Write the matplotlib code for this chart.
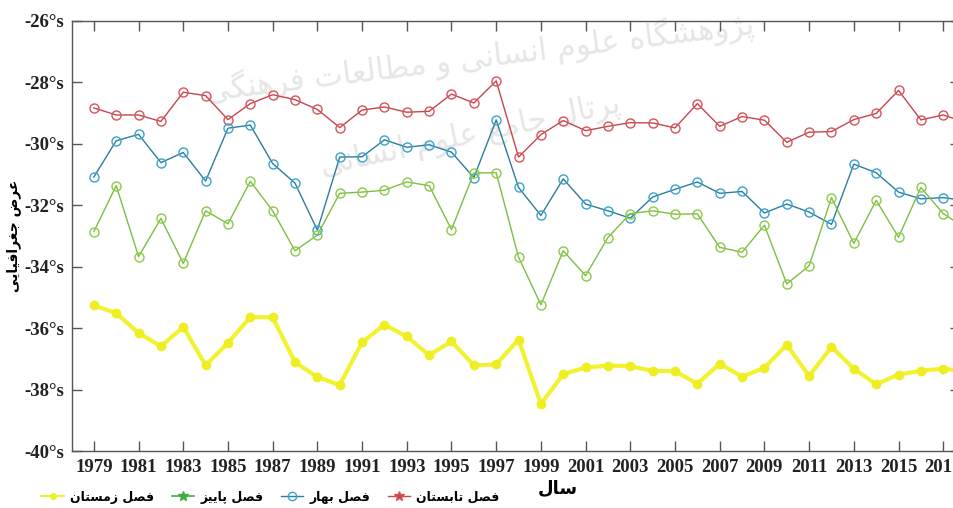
import matplotlib
matplotlib.use('Agg')
import matplotlib.pyplot as plt
from matplotlib.lines import Line2D

years = list(range(1979, 2019))

summer = [-28.83, -29.06, -29.06, -29.27, -28.32, -28.43, -29.21, -28.69, -28.40, -28.56,
          -28.88, -29.47, -28.90, -28.80, -28.97, -28.94, -28.38, -28.67, -27.95, -30.43,
          -29.70, -29.24, -29.57, -29.43, -29.31, -29.32, -29.48, -28.69, -29.43, -29.11,
          -29.23, -29.95, -29.62, -29.60, -29.21, -29.01, -28.26, -29.22, -29.06, -29.30]
spring = [-31.08, -29.90, -29.69, -30.61, -30.28, -31.21, -29.49, -29.39, -30.64, -31.28,
          -32.81, -30.43, -30.42, -29.87, -30.11, -30.03, -30.27, -31.10, -29.22, -31.42,
          -32.33, -31.14, -31.96, -32.18, -32.42, -31.73, -31.48, -31.24, -31.61, -31.55,
          -32.25, -31.96, -32.22, -32.62, -30.66, -30.94, -31.57, -31.79, -31.75, -31.85]
autumn = [-32.86, -31.36, -33.67, -32.43, -33.89, -32.18, -32.60, -31.22, -32.18, -33.48,
          -32.97, -31.61, -31.57, -31.51, -31.24, -31.36, -32.79, -30.95, -30.94, -33.69,
          -35.24, -33.48, -34.29, -33.05, -32.27, -32.18, -32.29, -32.28, -33.37, -33.53,
          -32.65, -34.56, -33.97, -31.75, -33.24, -31.84, -33.04, -31.42, -32.27, -32.75]
winter = [-35.26, -35.51, -36.16, -36.59, -35.96, -37.21, -36.48, -35.64, -35.65, -37.11,
          -37.59, -37.85, -36.46, -35.89, -36.27, -36.88, -36.43, -37.21, -37.18, -36.37,
          -38.47, -37.50, -37.28, -37.22, -37.24, -37.39, -37.40, -37.81, -37.16, -37.58,
          -37.29, -36.54, -37.56, -36.61, -37.32, -37.83, -37.51, -37.39, -37.32, -37.40]

xticks = list(range(1979, 2018, 2))
yticks = list(range(-40, -25, 2))

# persian labels (logical order), shaped below since matplotlib does no arabic shaping
lbl_summer = 'فصل تابستان'
lbl_spring = 'فصل بهار'
lbl_autumn = 'فصل پاییز'
lbl_winter = 'فصل زمستان'
xlabel = 'سال'
ylabel = 'عرض جغرافیایی'
mark1 = 'پژوهشگاه علوم انسانی و مطالعات فرهنگی'
mark2 = 'پرتال جامع علوم انسانی'

# isolated, final (, initial, medial)
FORMS = {
    'ا': '\uFE8D\uFE8E', 'ب': '\uFE8F\uFE90\uFE91\uFE92', 'ت': '\uFE95\uFE96\uFE97\uFE98',
    'ج': '\uFE9D\uFE9E\uFE9F\uFEA0', 'ر': '\uFEAD\uFEAE', 'ز': '\uFEAF\uFEB0',
    'س': '\uFEB1\uFEB2\uFEB3\uFEB4', 'ش': '\uFEB5\uFEB6\uFEB7\uFEB8', 'ص': '\uFEB9\uFEBA\uFEBB\uFEBC',
    'ض': '\uFEBD\uFEBE\uFEBF\uFEC0', 'ط': '\uFEC1\uFEC2\uFEC3\uFEC4', 'ع': '\uFEC9\uFECA\uFECB\uFECC',
    'غ': '\uFECD\uFECE\uFECF\uFED0', 'ف': '\uFED1\uFED2\uFED3\uFED4', 'ل': '\uFEDD\uFEDE\uFEDF\uFEE0',
    'م': '\uFEE1\uFEE2\uFEE3\uFEE4', 'ن': '\uFEE5\uFEE6\uFEE7\uFEE8', 'ه': '\uFEE9\uFEEA\uFEEB\uFEEC',
    'و': '\uFEED\uFEEE', 'پ': '\uFB56\uFB57\uFB58\uFB59', 'ژ': '\uFB8A\uFB8B',
    'گ': '\uFB92\uFB93\uFB94\uFB95', 'ی': '\uFBFC\uFBFD\uFBFE\uFBFF',
}


def shape(text):
    out = []
    for i, c in enumerate(text):
        f = FORMS.get(c)
        if f is None:
            out.append(c)
            continue
        prev = text[i - 1] if i > 0 else ''
        nxt = text[i + 1] if i + 1 < len(text) else ''
        jp = prev in FORMS and len(FORMS[prev]) == 4
        jn = nxt in FORMS and len(f) == 4
        if jp and jn:
            out.append(f[3])
        elif jp:
            out.append(f[1])
        elif jn:
            out.append(f[2])
        else:
            out.append(f[0])
    return ''.join(reversed(out))


fig = plt.figure(figsize=(9.54, 5.08), dpi=100)
ax = fig.add_axes([71.5 / 954, 1 - 451 / 508, (960 - 71.5) / 954, (451 - 21) / 508])

ax.plot(years, summer, color='#c4474d', lw=1.0, marker='o', ms=6.5, mfc='none',
        mec='#d9535a', mew=1.0, zorder=3)
ax.plot(years, spring, color='#2d7d9c', lw=1.0, marker='o', ms=6.5, mfc='none',
        mec='#3aa3cf', mew=1.0, zorder=3)
ax.plot(years, autumn, color='#7cbf45', lw=1.0, marker='o', ms=6.5, mfc='none',
        mec='#8dca4a', mew=1.0, zorder=3)
ax.plot(years, winter, color='#f2f230', lw=3.0, marker='o', ms=6, mfc='#eeee22',
        mec='#eeee22', zorder=3)

ax.set_xlim(1978, 2017.75)
ax.set_ylim(-40, -26)
ax.set_xticks(xticks)
ax.set_xticklabels([str(y) for y in xticks])
ax.set_yticks(yticks)
ax.set_yticklabels([f'{v}°s' for v in yticks])
ax.tick_params(direction='in', length=7, width=1, color='#555555', top=True, right=True)
ax.tick_params(axis='x', pad=6)
ax.tick_params(axis='y', pad=5)
for lab in ax.get_xticklabels() + ax.get_yticklabels():
    lab.set_fontfamily('Liberation Serif')
    lab.set_fontweight('bold')
    lab.set_fontsize(13.5)
    lab.set_color('#222222')
for s in ax.spines.values():
    s.set_color('#555555')
    s.set_linewidth(1.0)

fig.text(558 / 954, 1 - 488 / 508, shape(xlabel), ha='center', va='center',
         family='DejaVu Sans', weight='bold', fontsize=13)
fig.text(14 / 954, 1 - 236 / 508, shape(ylabel), ha='center', va='center', rotation=90,
         family='DejaVu Sans', weight='bold', fontsize=10)

# faint watermark behind the lines
ax.text(480 / 954, 1 - 58 / 508, shape(mark1), transform=fig.transFigure, ha='center',
        va='center', rotation=7, fontsize=22, color='#e6e6e6', family='DejaVu Sans',
        zorder=1, clip_on=False)
ax.text(470 / 954, 1 - 135 / 508, shape(mark2), transform=fig.transFigure, ha='center',
        va='center', rotation=12, fontsize=22, color='#e6e6e6', family='DejaVu Sans',
        zorder=1, clip_on=False)

handles = [
    Line2D([], [], color='#f2f230', lw=1.5, marker='.', ms=8, mfc='#eeee22', mec='#eeee22'),
    Line2D([], [], color='#3fae3f', lw=1.2, marker='*', ms=7, mec='#3fae3f'),
    Line2D([], [], color='#2d7d9c', lw=1.0, marker='o', ms=6, mfc='none', mec='#3aa3cf'),
    Line2D([], [], color='#c4474d', lw=1.0, marker='*', ms=7, mec='#d9535a'),
]
labels = [shape(lbl_winter), shape(lbl_autumn), shape(lbl_spring), shape(lbl_summer)]
fig.legend(handles, labels, loc='center left', bbox_to_anchor=(35 / 954, 1 - 497 / 508),
           ncol=4, frameon=False, handlelength=1.8, handletextpad=0.5, columnspacing=1.4,
           borderpad=0, prop={'family': 'DejaVu Sans', 'weight': 'bold', 'size': 9})

fig.savefig('out.png', dpi=100)
